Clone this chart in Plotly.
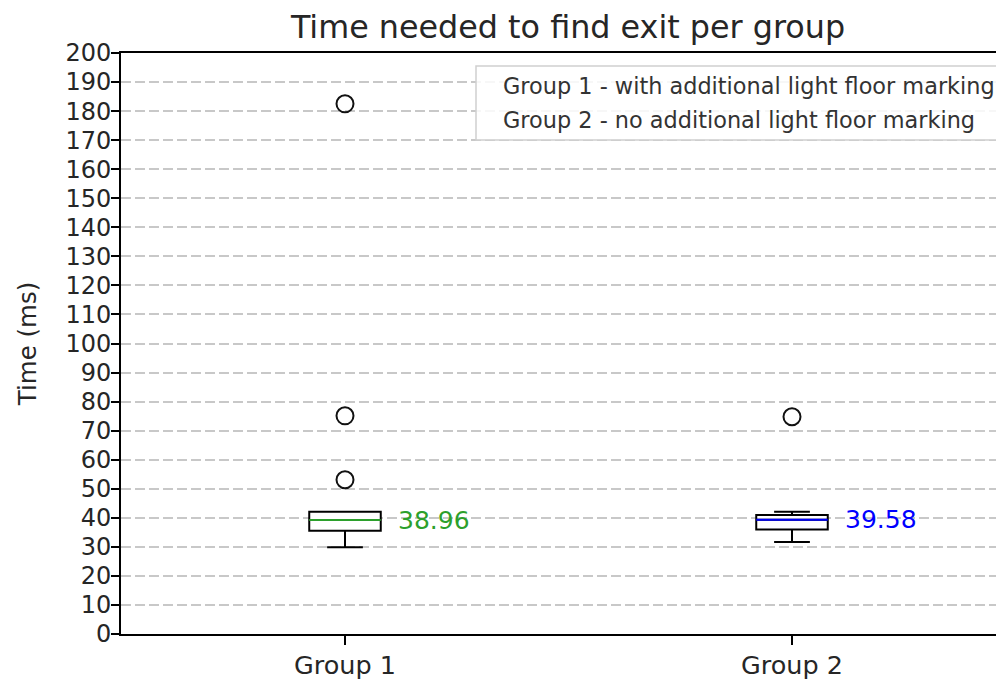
import plotly.graph_objects as go

# ---- data ----
groups = ["Group 1", "Group 2"]
positions = [1, 2]
q1 = [35.5, 36.0]
medians = [39.2, 39.3]
q3 = [42.1, 41.0]
lower_whisker = [29.9, 31.7]
upper_whisker = [42.1, 42.1]
median_labels = ["38.96", "39.58"]
median_colors = ["#2ca02c", "#0000ff"]
outliers = [[182.5, 75.1, 53.1], [74.8]]
legend_labels = ["Group 1 - with additional light floor marking",
                 "Group 2 - no additional light floor marking"]
y_ticks = list(range(0, 201, 10))

FONT = "DejaVu Sans"
TXT = "#262626"
box_w = 0.16

# page body has an 8px margin; figure sized so that it fills the 1004x684 window
OFF = 8
FIG_W, FIG_H = 1004 - OFF, 684 - OFF
L, R, T, B = 121, 1004, 53, 634          # plot area in window pixels
pw, ph = R - L, B - T
PX_PER_UNIT = 447
x0 = 1 - (345 - L) / PX_PER_UNIT

def px(x): return (x - L) / pw
def py(y): return (B - y) / ph

fig = go.Figure()

for i, p in enumerate(positions):
    fig.add_trace(go.Box(
        x=[p], q1=[q1[i]], median=[medians[i]], q3=[q3[i]],
        lowerfence=[lower_whisker[i]], upperfence=[upper_whisker[i]],
        width=box_w, whiskerwidth=0.5,
        line=dict(color="black", width=2), fillcolor="white",
        boxpoints=False, showlegend=False, hoverinfo="skip",
    ))
    fig.add_trace(go.Scatter(
        x=[p - box_w / 2, p + box_w / 2], y=[medians[i], medians[i]],
        mode="lines", line=dict(color=median_colors[i], width=2),
        showlegend=False, hoverinfo="skip",
    ))
    fig.add_trace(go.Scatter(
        x=[p] * len(outliers[i]), y=outliers[i], mode="markers",
        marker=dict(symbol="circle-open", size=17, color="#111111",
                    line=dict(width=2, color="#111111")),
        showlegend=False, hoverinfo="skip",
    ))
    fig.add_annotation(
        x=p + 0.115, y=medians[i], text=median_labels[i], showarrow=False,
        xanchor="left", yanchor="middle",
        font=dict(family=FONT, size=25, color=median_colors[i]),
    )

# legend box (matplotlib-style, no handles)
fig.add_shape(type="rect", xref="paper", yref="paper",
              x0=px(476), x1=px(999), y0=py(140), y1=py(66),
              line=dict(color="#d0d0d0", width=1.5),
              fillcolor="rgba(255,255,255,0.85)", layer="above")
for lab, yy in zip(legend_labels, [86, 120]):
    fig.add_annotation(xref="paper", yref="paper", x=px(501), y=py(yy),
                       text=lab, showarrow=False, xanchor="left", yanchor="middle",
                       font=dict(family=FONT, size=22.4, color="#333333"))

fig.update_layout(
    width=FIG_W, height=FIG_H,
    margin=dict(l=L - OFF, r=0, t=T - OFF, b=FIG_H + OFF - B, autoexpand=False),
    plot_bgcolor="white", paper_bgcolor="white",
    font=dict(family=FONT, size=25, color=TXT),
    title=dict(text="Time needed to find exit per group", xref="paper",
               x=px(568), xanchor="center", yref="container",
               y=1 - (27 - OFF) / FIG_H, yanchor="middle",
               font=dict(family=FONT, size=31.8, color=TXT)),
    showlegend=False,
)
fig.update_xaxes(
    range=[x0, x0 + pw / PX_PER_UNIT],
    tickmode="array", tickvals=positions, ticktext=groups,
    showline=True, linecolor="black", linewidth=2, mirror=True,
    ticks="outside", ticklen=9, tickwidth=2, tickcolor="black",
    ticklabelstandoff=-2,
    showgrid=False, zeroline=False,
    tickfont=dict(family=FONT, size=25.5, color=TXT),
)
fig.update_yaxes(
    range=[0, 200], tickmode="array", tickvals=y_ticks,
    showline=True, linecolor="black", linewidth=2,
    ticks="outside", ticklen=8, tickwidth=2, tickcolor="black",
    ticklabelstandoff=-5,
    showgrid=True, gridcolor="#c8c8c8", gridwidth=1.5, griddash="10px,4px",
    zeroline=False,
    title=dict(text="Time (ms)", standoff=22,
               font=dict(family=FONT, size=24.5, color=TXT)),
    tickfont=dict(family=FONT, size=24, color=TXT),
)

fig.write_html("out.html")
